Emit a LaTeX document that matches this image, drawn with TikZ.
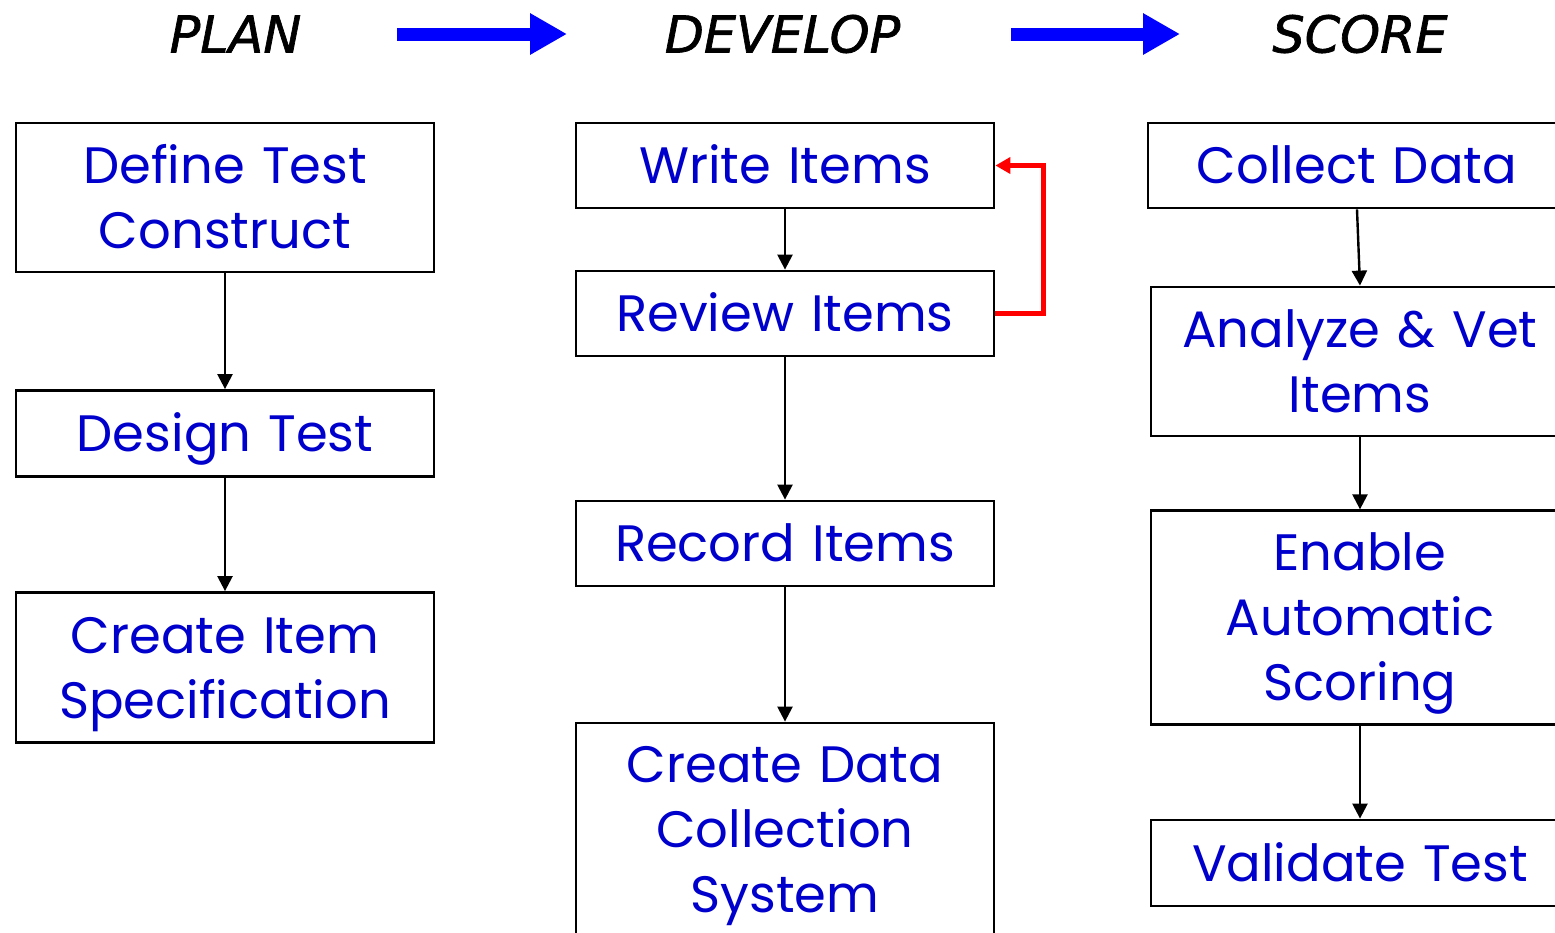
\documentclass[tikz,border=0pt]{standalone}
\usepackage{fontspec}
\setmainfont{Poppins}
\newfontfamily\headfont{DejaVu Sans}[ItalicFeatures={FakeBold=1.3}]
\usetikzlibrary{arrows.meta}
\definecolor{txtblue}{HTML}{0000CC}
\tikzset{
    %Define style for the step boxes
    task/.style={
      rectangle,
      draw=black, line width=1.4pt,
      text width=190pt,
      align=center,
      minimum width=209pt,
      inner sep=0pt,
      text height=18pt,
      text depth=0pt,
      text=txtblue,
      font=\fontsize{25.6pt}{32.5pt}\selectfont},
    % Define style for the phase titles
    phase/.style={
      font=\headfont\itshape\fontsize{25.4pt}{30pt}\selectfont,
      inner sep=0pt,
      text height=18.5pt,
      text depth=0pt},
    % Define arrow styles
    arr/.style={
      -{Triangle[length=7.5pt,width=7.5pt]},
      line width=1.2pt},
    back/.style={
      -{Triangle[length=7.5pt,width=8pt]},
      draw=red,
      line width=2.5pt},
    flow/.style={
      -{Triangle[length=18.5pt,width=19.5pt]},
      draw=blue,
      line width=6.5pt}
}
\begin{document}
\begin{tikzpicture}[x=0.5pt, y=-0.5pt]
    \useasboundingbox (0,0) rectangle (1555,933);
    \clip (0,0) rectangle (1555,933);

    % phase titles
    \node[phase] (plan) at (235.5,34) {PLAN};
    \node[phase] (develop) at (782.5,34) {DEVELOP};
    \node[phase] (score) at (1360,34) {SCORE};
    \draw[flow, shorten <=80.75pt, shorten >=107.75pt] (plan.center) -- (develop.center);
    \draw[flow, shorten <=114.25pt, shorten >=90pt] (develop.center) -- (score.center);

    % plan column
    \node[task, minimum height=74.5pt, text depth=32.5pt] (define) at (225,197.5) {Define Test\\Construct};
    \node[task, minimum height=43pt] (design) at (225,433.5) {Design Test};
    \node[task, minimum height=75pt, text depth=32.5pt] (spec) at (225,667.5) {Create Item\\Specification};

    % develop column
    \node[task, minimum height=42.5pt] (write) at (785,165.5) {Write Items};
    \node[task, minimum height=42.5pt] (review) at (785,313.5) {Review Items};
    \node[task, minimum height=42.5pt] (record) at (785,543.5) {Record Items};
    \node[task, minimum height=106.5pt, text depth=65pt] (system) at (785,829.5) {Create Data\\Collection\\System};

    % score column
    \node[task, minimum height=42.5pt] (collect) at (1357,165.5) {Collect Data};
    \node[task, minimum height=74.5pt, text depth=32.5pt] (analyze) at (1360,361.5) {Analyze \& Vet\\Items};
    \node[task, minimum height=106.75pt, text depth=65pt] (enable) at (1360,617.5) {Enable\\Automatic\\Scoring};
    \node[task, minimum height=43pt] (validate) at (1360,863) {Validate Test};

    \draw[arr] (define.south) -- (design.north);
    \draw[arr] (design.south) -- (spec.north);
    \draw[arr] (write.south) -- (review.north);
    \draw[arr] (review.south) -- (record.north);
    \draw[arr] (record.south) -- (system.north);
    \draw[arr] (collect.south) -- (analyze.north);
    \draw[arr] (analyze.south) -- (enable.north);
    \draw[arr] (enable.south) -- (validate.north);

    % loop back from review
    \draw[back] (review.east) -- ++(48,0) |- (write.east);
\end{tikzpicture}
\end{document}
